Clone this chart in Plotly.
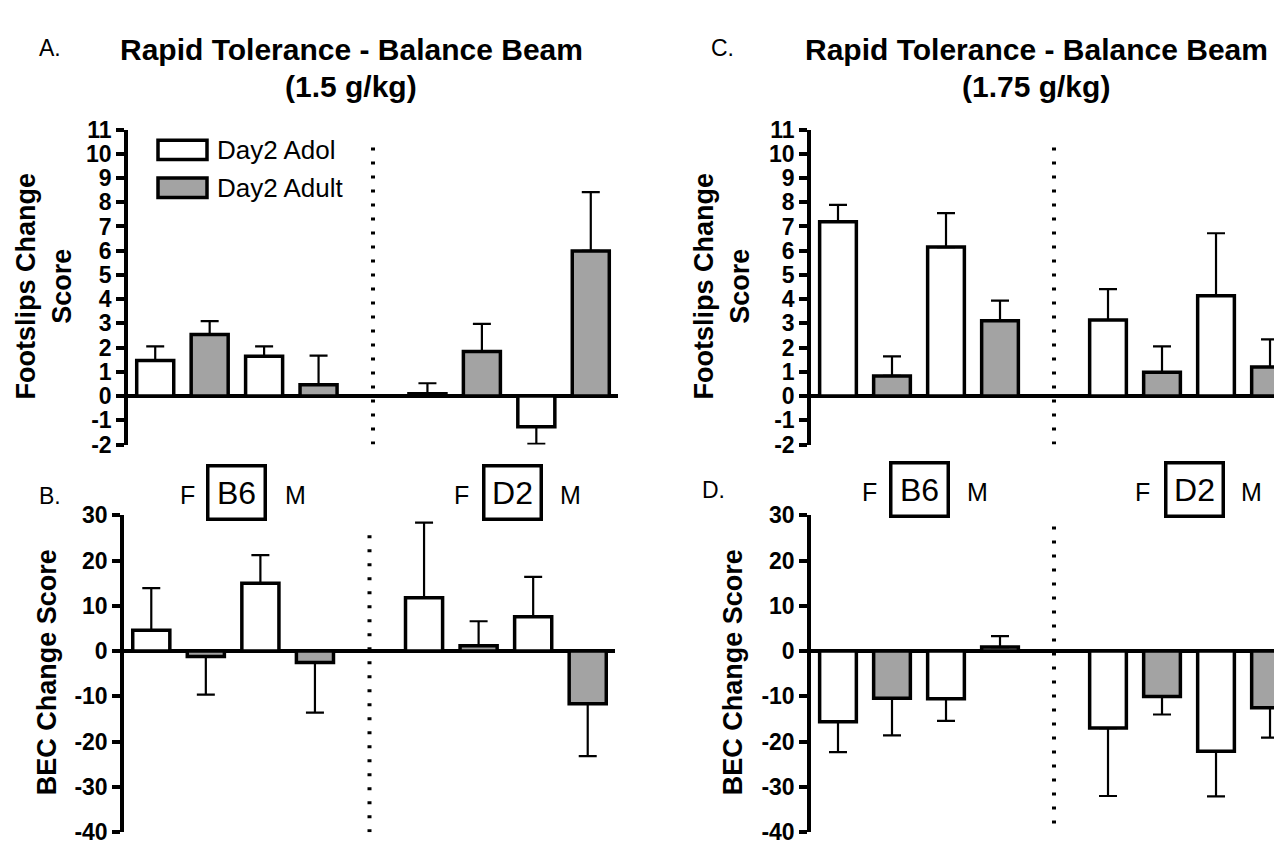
import plotly.graph_objects as go

W, H = 1282, 844

# ---------------- data ----------------
strains = ["B6", "D2"]
sexes = ["F", "M"]
groups = ["B6 F", "B6 M", "D2 F", "D2 M"]
series = ["Day2 Adol", "Day2 Adult"]
series_colors = ["#ffffff", "#a3a3a3"]

# A. Footslips change score, 1.5 g/kg
fs15_adol = [1.47, 1.64, 0.10, -1.27]
fs15_adol_sem = [0.58, 0.41, 0.43, 0.70]
fs15_adult = [2.54, 0.47, 1.84, 5.99]
fs15_adult_sem = [0.55, 1.20, 1.14, 2.43]

# B. BEC change score, 1.5 g/kg
bec15_adol = [4.6, 15.0, 11.8, 7.6]
bec15_adol_sem = [9.3, 6.2, 16.6, 8.8]
bec15_adult = [-1.2, -2.5, 1.2, -11.6]
bec15_adult_sem = [8.4, 11.1, 5.4, 11.6]

# C. Footslips change score, 1.75 g/kg
fs175_adol = [7.19, 6.15, 3.14, 4.14]
fs175_adol_sem = [0.70, 1.40, 1.27, 2.58]
fs175_adult = [0.83, 3.11, 0.98, 1.20]
fs175_adult_sem = [0.81, 0.83, 1.07, 1.14]

# D. BEC change score, 1.75 g/kg
bec175_adol = [-15.6, -10.5, -17.0, -22.1]
bec175_adol_sem = [6.7, 4.9, 15.0, 10.0]
bec175_adult = [-10.4, 0.9, -10.0, -12.5]
bec175_adult_sem = [8.2, 2.4, 4.0, 6.6]

fs_ticks = list(range(-2, 12))
fs_ticktext = [str(v) for v in fs_ticks]          # plain hyphen minus, as in the figure
bec_ticks = list(range(-40, 31, 10))
bec_ticktext = [str(v) for v in bec_ticks]

# ---------------- helpers ----------------
def px(x):
    return x / W

def py(y):
    return 1 - y / H

FONT = "Liberation Sans, Arial, sans-serif"

# slot of each (group, series): groups of two bars, a one-slot gap between strains
def slots(series_index):
    out = []
    for g, name in enumerate(groups):
        strain_i = strains.index(name.split()[0])
        out.append(2 * g + series_index + strain_i)
    return out

sep_x = (slots(1)[1] + slots(0)[2]) / 2.0

fig = go.Figure()

panels = [
    ("x", "y", fs15_adol, fs15_adol_sem, fs15_adult, fs15_adult_sem),
    ("x2", "y2", bec15_adol, bec15_adol_sem, bec15_adult, bec15_adult_sem),
    ("x3", "y3", fs175_adol, fs175_adol_sem, fs175_adult, fs175_adult_sem),
    ("x4", "y4", bec175_adol, bec175_adol_sem, bec175_adult, bec175_adult_sem),
]

for xa, ya, adol, adol_sem, adult, adult_sem in panels:
    for si, (vals, sems) in enumerate([(adol, adol_sem), (adult, adult_sem)]):
        plus = [s if v >= 0 else 0 for v, s in zip(vals, sems)]
        minus = [s if v < 0 else 0 for v, s in zip(vals, sems)]
        fig.add_trace(go.Bar(
            x=slots(si), y=vals, name=series[si], width=0.68,
            marker=dict(color=series_colors[si], line=dict(color="black", width=3.5)),
            error_y=dict(type="data", symmetric=False, array=plus, arrayminus=minus,
                         color="black", thickness=2.2, width=9),
            xaxis=xa, yaxis=ya, showlegend=False,
        ))

yaxis_common = dict(
    showgrid=False, showline=True, linewidth=3.5, linecolor="black",
    ticks="outside", ticklen=8, tickwidth=3.5, tickcolor="black",
    zeroline=True, zerolinewidth=3.5, zerolinecolor="black",
    tickfont=dict(family=FONT, size=23, color="black", weight="bold"),
)
xaxis_common = dict(showgrid=False, showline=False, zeroline=False,
                    showticklabels=False, ticks="")

cd_end = -0.5 + 8.87

fig.update_layout(
    width=W, height=H, margin=dict(l=0, r=0, t=0, b=0),
    paper_bgcolor="white", plot_bgcolor="white",
    barmode="overlay",
    xaxis=dict(domain=[px(120), px(610)], range=[-0.5, 8.5], anchor="y", **xaxis_common),
    yaxis=dict(domain=[py(437), py(112)], range=[-2, 11], tickvals=fs_ticks, ticktext=fs_ticktext,
               anchor="x", **yaxis_common),
    xaxis2=dict(domain=[px(116), px(607)], range=[-0.5, 8.5], anchor="y2", **xaxis_common),
    yaxis2=dict(domain=[py(837), py(510)], range=[-40, 30], tickvals=bec_ticks, ticktext=bec_ticktext,
                anchor="x2", **yaxis_common),
    xaxis3=dict(domain=[px(803), 1.0], range=[-0.5, cd_end], anchor="y3", **xaxis_common),
    yaxis3=dict(domain=[py(437), py(112)], range=[-2, 11], tickvals=fs_ticks, ticktext=fs_ticktext,
                anchor="x3", **yaxis_common),
    xaxis4=dict(domain=[px(803), 1.0], range=[-0.5, cd_end], anchor="y4", **xaxis_common),
    yaxis4=dict(domain=[py(837), py(510)], range=[-40, 30], tickvals=bec_ticks, ticktext=bec_ticktext,
                anchor="x4", **yaxis_common),
)

# dotted separators between strains
for xr, yr, y0, y1 in [("x", "y", -2, 10.3), ("x2", "y2", -40, 26.1),
                       ("x3", "y3", -2, 10.3), ("x4", "y4", -38.1, 27.9)]:
    fig.add_shape(type="line", xref=xr, yref=yr, x0=sep_x, x1=sep_x, y0=y0, y1=y1,
                  line=dict(color="black", width=4, dash="3px,11px"))

ann = []

def text(x, y, s, size, bold=False, **kw):
    d = dict(x=px(x), y=py(y), xref="paper", yref="paper", text=s, showarrow=False,
             xanchor=kw.pop("xanchor", "center"), yanchor=kw.pop("yanchor", "middle"),
             font=dict(family=FONT, size=size, color="black", weight="bold" if bold else "normal"))
    d.update(kw)
    ann.append(d)

# titles and panel letters
text(42, 28, "A.", 23)
text(343, 29, "Rapid Tolerance - Balance Beam", 30, bold=True)
text(343, 68, "(1.5 g/kg)", 30, bold=True)
text(714, 28, "C.", 23)
text(1028, 29, "Rapid Tolerance - Balance Beam", 30, bold=True)
text(1028, 68, "(1.75 g/kg)", 30, bold=True)
text(42, 490, "B.", 23)
text(705, 484, "D.", 23)

# y-axis titles
text(36, 274, "Footslips Change<br>Score", 27, bold=True, textangle=-90)
text(39, 672, "BEC Change Score", 27, bold=True, textangle=-90)
text(714, 274, "Footslips Change<br>Score", 27, bold=True, textangle=-90)
text(725, 672, "BEC Change Score", 27, bold=True, textangle=-90)

# strain / sex labels
for (fx, bx, mx, yy, strain) in [(179, 228, 287, 486, strains[0]), (453, 504, 562, 486, strains[1]),
                                  (861, 911, 969, 483, strains[0]), (1134, 1186, 1243, 483, strains[1])]:
    text(fx, yy + 3, sexes[0], 25)
    text(mx, yy + 3, sexes[1], 25)
    text(bx, yy, strain, 32, bordercolor="black", borderwidth=3.5, width=54, height=50, borderpad=0)

# legend (manual)
for i, (name, col) in enumerate(zip(series, series_colors)):
    yc = 133 + 39 * i
    fig.add_shape(type="rect", xref="paper", yref="paper",
                  x0=px(150), x1=px(199), y0=py(yc - 10), y1=py(yc + 10),
                  line=dict(color="black", width=3.5), fillcolor=col)
    text(207, yc, name, 26, xanchor="left")

fig.update_layout(annotations=ann)

fig.write_html("out.html")
